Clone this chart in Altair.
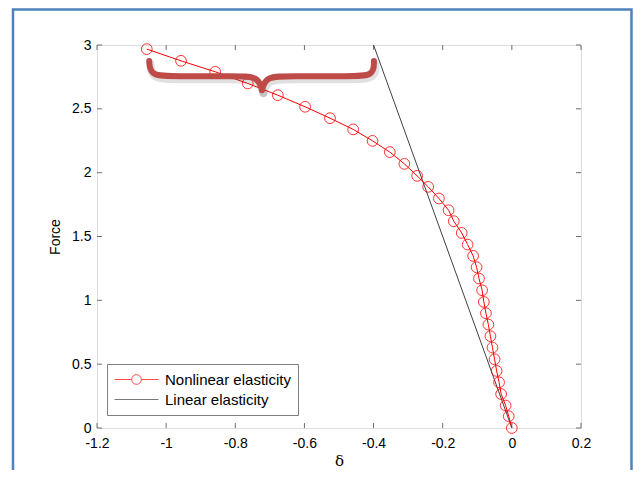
import altair as alt
import pandas as pd

# ---- data ----
nl_x = [-1.056, -0.957, -0.858, -0.764, -0.677, -0.598, -0.526, -0.459, -0.403, -0.353,
        -0.311, -0.274, -0.242, -0.211, -0.183, -0.168, -0.145, -0.128, -0.112, -0.102,
        -0.095, -0.086, -0.081, -0.075, -0.068, -0.062, -0.056, -0.050, -0.044, -0.037,
        -0.031, -0.018, -0.009, 0.0]
nl_y = [2.968, 2.876, 2.790, 2.699, 2.607, 2.516, 2.427, 2.339, 2.249, 2.161,
        2.069, 1.975, 1.889, 1.798, 1.706, 1.620, 1.528, 1.437, 1.348, 1.259,
        1.171, 1.079, 0.987, 0.899, 0.810, 0.719, 0.630, 0.538, 0.447, 0.358,
        0.266, 0.176, 0.092, 0.0]
lin_x = [-0.4, 0.0]
lin_y = [3.0, 0.0]

x_ticks = [-1.2, -1.0, -0.8, -0.6, -0.4, -0.2, 0.0, 0.2]
y_ticks = [0, 0.5, 1, 1.5, 2, 2.5, 3]

series_names = ["Nonlinear elasticity", "Linear elasticity"]
series_colors = ["#FF0000", "#404040"]

# curly-brace annotation (control points, data units)
brace_x = [-1.049, -1.046, -0.974, -0.801, -0.734, -0.723,
           -0.723, -0.711, -0.642, -0.468, -0.399, -0.399]
brace_y = [2.874, 2.756, 2.756, 2.756, 2.756, 2.647,
           2.647, 2.756, 2.756, 2.756, 2.756, 2.874]
brace_part = ["L"] * 6 + ["R"] * 6

# ---- layout ----
W, H = 484, 383
FONT = "Liberation Sans"
AXC = "#6e6e6e"

nl = pd.DataFrame({"x": nl_x, "y": nl_y, "i": list(range(len(nl_x)))})
lin = pd.DataFrame({"x": lin_x, "y": lin_y})
xt = pd.DataFrame({"x": x_ticks})
yt = pd.DataFrame({"y": y_ticks})
br = pd.DataFrame({"x": brace_x, "y": brace_y, "part": brace_part,
                   "i": list(range(len(brace_x)))})
leg = pd.DataFrame({"s": series_names})

xs = alt.Scale(domain=[-1.2, 0.2], nice=False, zero=False)
ys = alt.Scale(domain=[0, 3], nice=False, zero=False)

xaxis = alt.Axis(values=x_ticks, ticks=False, domain=False, grid=False, title="δ",
                 labelExpr="datum.value == 0 ? '0' : toString(round(datum.value * 10) / 10)",
                 labelFont=FONT, labelFontSize=14, labelColor="black", labelPadding=8,
                 titleFont="DejaVu Serif", titleFontSize=15, titleFontWeight="normal",
                 titleColor="black", titlePadding=3, labelFlush=False)
yaxis = alt.Axis(values=y_ticks, ticks=False, domain=False, grid=False, title="Force",
                 labelExpr="toString(datum.value)",
                 labelFont=FONT, labelFontSize=14, labelColor="black", labelPadding=6,
                 titleFont=FONT, titleFontSize=14, titleFontWeight="normal",
                 titleColor="black", titlePadding=9, labelFlush=False)

X = alt.X("x:Q", scale=xs, axis=xaxis)
Y = alt.Y("y:Q", scale=ys, axis=yaxis)

frame = alt.Chart(alt.Data(values=[{"a": 1}])).mark_rect(
    fill="transparent", stroke="#4F81BD", strokeWidth=2.5
).encode(x=alt.value(-84), x2=alt.value(534.5), y=alt.value(-35.5), y2=alt.value(H + 80))

ticks_b = alt.Chart(xt).mark_rule(color=AXC, strokeWidth=1).encode(
    x=X, y=alt.value(H), y2=alt.value(H - 5))
ticks_t = alt.Chart(xt).mark_rule(color=AXC, strokeWidth=1).encode(
    x=X, y=alt.value(0), y2=alt.value(5))
ticks_l = alt.Chart(yt).mark_rule(color=AXC, strokeWidth=1).encode(
    y=Y, x=alt.value(0), x2=alt.value(5))
ticks_r = alt.Chart(yt).mark_rule(color=AXC, strokeWidth=1).encode(
    y=Y, x=alt.value(W), x2=alt.value(W - 5))

nl_line = alt.Chart(nl).mark_line(color="#FF0000", strokeWidth=1).encode(
    x=X, y=Y, order="i:Q")
nl_pts = alt.Chart(nl).mark_point(shape="circle", filled=False, color="#FF0000",
                                  strokeWidth=1, size=115, opacity=0.8).encode(x=X, y=Y)
lin_line = alt.Chart(lin).mark_line(color="#404040", strokeWidth=1).encode(x=X, y=Y)

brace_shadow = alt.Chart(br).mark_line(
    interpolate="basis", color="#000000", opacity=0.12, strokeWidth=8,
    strokeCap="round", strokeJoin="round", xOffset=1.5, yOffset=3
).encode(x=X, y=Y, detail="part:N", order="i:Q")
brace = alt.Chart(br).mark_line(
    interpolate="basis", color="#BE4B48", strokeWidth=6,
    strokeCap="round", strokeJoin="round"
).encode(x=X, y=Y, detail="part:N", order="i:Q")

path_nl = ("M-1,0L-0.22,0M0.22,0L1,0M0.22,0A0.22,0.22 0 1 1 -0.22,0"
           "A0.22,0.22 0 1 1 0.22,0")
path_lin = "M-1,0L1,0"

legend = alt.Legend(orient="none", legendX=10, legendY=319, title=None,
                    fillColor="white", strokeColor="#7f7f7f", padding=7,
                    labelFont=FONT, labelFontSize=15, labelColor="black",
                    labelOffset=6, symbolSize=1936, symbolStrokeWidth=1,
                    symbolFillColor="transparent", clipHeight=17, rowPadding=3)

legend_layer = alt.Chart(leg).mark_point(filled=False, size=1936, strokeWidth=1).encode(
    color=alt.Color("s:N", scale=alt.Scale(domain=series_names, range=series_colors),
                    legend=legend),
    shape=alt.Shape("s:N", scale=alt.Scale(domain=series_names, range=[path_nl, path_lin]),
                    legend=legend),
).transform_filter("false")

chart = alt.layer(
    frame, ticks_b, ticks_t, ticks_l, ticks_r,
    lin_line, nl_line, nl_pts, brace_shadow, brace, legend_layer
).properties(
    width=W, height=H,
    autosize=alt.AutoSizeParams(type="none"),
    padding={"left": 89, "top": 37, "right": 52, "bottom": 42},
).configure_view(stroke=AXC, strokeWidth=1).configure(background="white")

chart.save("out.html", embed_options={"renderer": "svg", "actions": False})
